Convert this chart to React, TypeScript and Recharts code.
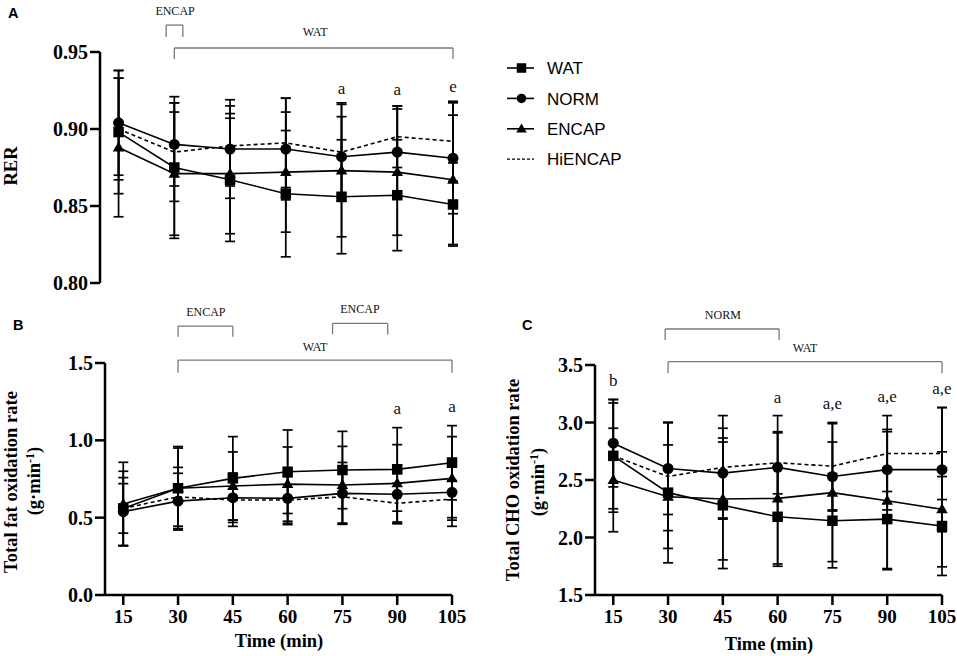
import React from 'react';
import { LineChart, Line, XAxis, YAxis, ErrorBar, ReferenceLine, ReferenceDot, Legend } from 'recharts';

// ---------- data ----------
const time = [15, 30, 45, 60, 75, 90, 105];
const xTicks = [15, 30, 45, 60, 75, 90, 105];

// Panel A: RER
const rerWAT = [0.898, 0.875, 0.867, 0.858, 0.856, 0.857, 0.851];
const rerWATsd = [0.040, 0.046, 0.040, 0.041, 0.037, 0.036, 0.027];
const rerNORM = [0.904, 0.890, 0.887, 0.887, 0.882, 0.885, 0.881];
const rerNORMsd = [0.034, 0.027, 0.032, 0.033, 0.026, 0.030, 0.036];
const rerENCAP = [0.888, 0.871, 0.871, 0.872, 0.873, 0.872, 0.867];
const rerENCAPsd = [0.045, 0.040, 0.039, 0.039, 0.043, 0.041, 0.042];
const rerHI = [0.900, 0.885, 0.889, 0.891, 0.885, 0.895, 0.892];
const rerHIsd = [0.033, 0.032, 0.026, 0.029, 0.032, 0.020, 0.026];
const rerTicks = [0.8, 0.85, 0.9, 0.95];

// Panel B: total fat oxidation rate
const fatWAT = [0.56, 0.69, 0.754, 0.797, 0.808, 0.812, 0.855];
const fatWATsd = [0.24, 0.27, 0.27, 0.27, 0.25, 0.27, 0.24];
const fatNORM = [0.539, 0.607, 0.629, 0.625, 0.657, 0.651, 0.664];
const fatNORMsd = [0.22, 0.18, 0.16, 0.17, 0.20, 0.19, 0.22];
const fatENCAP = [0.588, 0.69, 0.705, 0.717, 0.711, 0.722, 0.754];
const fatENCAPsd = [0.27, 0.26, 0.22, 0.24, 0.25, 0.25, 0.27];
const fatHI = [0.56, 0.635, 0.614, 0.614, 0.635, 0.593, 0.62];
const fatHIsd = [0.16, 0.19, 0.17, 0.15, 0.17, 0.13, 0.12];
const fatTicks = [0, 0.5, 1.0, 1.5];

// Panel C: total CHO oxidation rate
const choWAT = [2.71, 2.39, 2.28, 2.18, 2.146, 2.16, 2.10];
const choWATsd = [0.46, 0.61, 0.55, 0.43, 0.41, 0.43, 0.43];
const choNORM = [2.82, 2.60, 2.56, 2.61, 2.53, 2.59, 2.59];
const choNORMsd = [0.38, 0.40, 0.39, 0.45, 0.30, 0.35, 0.54];
const choENCAP = [2.50, 2.355, 2.335, 2.34, 2.39, 2.32, 2.245];
const choENCAPsd = [0.45, 0.45, 0.53, 0.57, 0.60, 0.60, 0.50];
const choHI = [2.71, 2.53, 2.61, 2.65, 2.62, 2.73, 2.73];
const choHIsd = [0.49, 0.47, 0.45, 0.27, 0.38, 0.33, 0.40];
const choTicks = [1.5, 2.0, 2.5, 3.0, 3.5];

// ---------- styles ----------
const SERIF = "'Liberation Serif', 'Times New Roman', serif";
const SANS = "'Liberation Sans', Arial, sans-serif";
const BRACKET = '#7a7a7a';
const AXIS = { stroke: '#000', strokeWidth: 2.5 };
const TICK_Y = { fill: '#000', fontSize: 20, fontWeight: 'bold', fontFamily: SERIF };
const TICK_X = { fill: '#000', fontSize: 19, fontWeight: 'bold', fontFamily: SERIF };

function buildRows(wat: number[], watSd: number[], norm: number[], normSd: number[], encap: number[], encapSd: number[], hi: number[], hiSd: number[]) {
  return time.map((t, i) => ({
    t,
    wat: wat[i], watSd: watSd[i],
    norm: norm[i], normSd: normSd[i],
    encap: encap[i], encapSd: encapSd[i],
    hi: hi[i], hiSd: hiSd[i],
  }));
}

const rowsA = buildRows(rerWAT, rerWATsd, rerNORM, rerNORMsd, rerENCAP, rerENCAPsd, rerHI, rerHIsd);
const rowsB = buildRows(fatWAT, fatWATsd, fatNORM, fatNORMsd, fatENCAP, fatENCAPsd, fatHI, fatHIsd);
const rowsC = buildRows(choWAT, choWATsd, choNORM, choNORMsd, choENCAP, choENCAPsd, choHI, choHIsd);

// ---------- markers ----------
function markerShape(kind: string, cx: number, cy: number, s: number) {
  if (kind === 'square') return <rect x={cx - s / 2} y={cy - s / 2} width={s} height={s} fill="#000" />;
  if (kind === 'circle') return <circle cx={cx} cy={cy} r={s / 2} fill="#000" />;
  if (kind === 'triangle') {
    const h = s * 0.95;
    return <polygon points={`${cx},${cy - h * 0.6} ${cx + s * 0.55},${cy + h * 0.4} ${cx - s * 0.55},${cy + h * 0.4}`} fill="#000" />;
  }
  return null;
}

const makeDot = (kind: string) => (p: any) => {
  if (p.cx == null || p.cy == null) return <g />;
  return <g>{markerShape(kind, p.cx, p.cy, kind === 'circle' ? 11 : 10.5)}</g>;
};

const SERIES = [
  { key: 'wat', name: 'WAT', marker: 'square', dash: undefined as string | undefined },
  { key: 'norm', name: 'NORM', marker: 'circle', dash: undefined as string | undefined },
  { key: 'encap', name: 'ENCAP', marker: 'triangle', dash: undefined as string | undefined },
  { key: 'hi', name: 'HiENCAP', marker: 'none', dash: '4 3' },
];

function seriesLines() {
  return SERIES.map((s) => (
    <Line
      key={s.key}
      type="linear"
      dataKey={s.key}
      name={s.name}
      stroke="#000"
      strokeWidth={1.6}
      strokeDasharray={s.dash}
      dot={s.marker === 'none' ? false : makeDot(s.marker)}
      activeDot={false}
      isAnimationActive={false}
      legendType="line"
    >
      <ErrorBar dataKey={`${s.key}Sd`} width={5} stroke="#000" strokeWidth={1.7} direction="y" isAnimationActive={false} />
    </Line>
  ));
}

// ---------- annotations ----------
function bracket(id: string, x1: number, x2: number, yTop: number, yLeg: number) {
  const common = { stroke: BRACKET, strokeWidth: 1.3, ifOverflow: 'visible' as const };
  return [
    <ReferenceLine key={`${id}-l`} segment={[{ x: x1, y: yLeg }, { x: x1, y: yTop }]} {...common} />,
    <ReferenceLine key={`${id}-t`} segment={[{ x: x1, y: yTop }, { x: x2, y: yTop }]} {...common} />,
    <ReferenceLine key={`${id}-r`} segment={[{ x: x2, y: yTop }, { x: x2, y: yLeg }]} {...common} />,
  ];
}

function note(id: string, x: number, y: number, text: string, size: number, color = '#111') {
  return (
    <ReferenceDot
      key={id}
      x={x}
      y={y}
      r={1}
      ifOverflow="visible"
      shape={(p: any) => (
        <text x={p.cx} y={p.cy} textAnchor="middle" dominantBaseline="central" fontFamily={SERIF} fontSize={size} fill={color}>
          {text}
        </text>
      )}
    />
  );
}

// ---------- legend ----------
const renderLegend = (props: any) => {
  const payload: any[] = (props.payload || []).slice();
  payload.sort((a, b) => SERIES.findIndex((s) => s.name === a.value) - SERIES.findIndex((s) => s.name === b.value));
  return (
    <svg width={160} height={125} style={{ overflow: 'visible' }}>
      {payload.map((entry, i) => {
        const def = SERIES.find((s) => s.name === entry.value);
        const y = 18 + i * 30.4;
        return (
          <g key={String(entry.value)}>
            <line x1={7} x2={34} y1={y} y2={y} stroke="#000" strokeWidth={def && def.dash ? 1.2 : 1.6} strokeDasharray={def && def.dash ? '3 2' : undefined} />
            {def ? markerShape(def.marker, 21.5, y, 9.5) : null}
            <text x={47} y={y + 6.2} fontFamily={SANS} fontSize={17} fill="#000">{entry.value}</text>
          </g>
        );
      })}
    </svg>
  );
};

// ---------- overlay text ----------
function Overlay() {
  const title = { fontFamily: SERIF, fontWeight: 'bold' as const, fontSize: 18.5, fill: '#000', textAnchor: 'middle' as const, style: { fill: '#000' } };
  const panel = { fontFamily: SANS, fontWeight: 'bold' as const, fontSize: 14.5, fill: '#000' };
  return (
    <svg width={957} height={656} style={{ position: 'absolute', left: 0, top: 0, pointerEvents: 'none' }}>
      <text x={8} y={18} {...panel}>A</text>
      <text x={13} y={330} {...panel}>B</text>
      <text x={522} y={330} {...panel}>C</text>

      <text transform="translate(17,166) rotate(-90)" {...title}>RER</text>

      <text transform="translate(16.5,482) rotate(-90)" {...title}>Total fat oxidation rate</text>
      <text transform="translate(40,481) rotate(-90)" {...title}>
        (g·min<tspan dy={-6} fontSize={12}>-1</tspan><tspan dy={6}>)</tspan>
      </text>

      <text transform="translate(519,480) rotate(-90)" {...title}>Total CHO oxidation rate</text>
      <text transform="translate(544,482) rotate(-90)" {...title}>
        (g·min<tspan dy={-6} fontSize={12}>-1</tspan><tspan dy={6}>)</tspan>
      </text>

      <text x={279} y={647} {...title}>Time (min)</text>
      <text x={769} y={650} {...title}>Time (min)</text>
    </svg>
  );
}

export default function App() {
  return (
    <div style={{ position: 'absolute', left: 0, top: 0, width: 957, height: 656, background: '#fff' }}>
      {/* Panel A */}
      <div style={{ position: 'absolute', left: 0, top: 0 }}>
        <LineChart width={957} height={300} data={rowsA} margin={{ top: 52, right: 504, bottom: 17, left: 0 }}>
          <XAxis type="number" dataKey="t" domain={[10, 105]} ticks={xTicks} hide />
          <YAxis
            type="number"
            domain={[0.8, 0.95]}
            ticks={rerTicks}
            tickFormatter={(v: number) => v.toFixed(2)}
            width={100}
            tick={TICK_Y}
            axisLine={AXIS}
            tickLine={AXIS}
            tickSize={10}
            tickMargin={2}
            interval={0}
          />
          {bracket('aEncap', 27.8, 32.3, 0.9675, 0.9597)}
          {bracket('aWat', 30, 105, 0.9526, 0.9455)}
          {note('aEncapT', 30.2, 0.9766, 'ENCAP', 12)}
          {note('aWatT', 67.9, 0.9627, 'WAT', 12)}
          {note('aA75', 75, 0.9266, 'a', 17)}
          {note('aA90', 90, 0.9257, 'a', 17)}
          {note('aE105', 105, 0.9273, 'e', 17)}
          {seriesLines()}
          <Legend
            layout="vertical"
            align="center"
            verticalAlign="middle"
            wrapperStyle={{ left: 500, top: 50, width: 160, height: 125 }}
            content={renderLegend}
          />
        </LineChart>
      </div>

      {/* Panel B */}
      <div style={{ position: 'absolute', left: 0, top: 300 }}>
        <LineChart width={480} height={356} data={rowsB} margin={{ top: 63, right: 28, bottom: 31, left: 0 }}>
          <XAxis
            type="number"
            dataKey="t"
            domain={[10, 105]}
            ticks={xTicks}
            interval={0}
            height={30}
            tick={TICK_X}
            axisLine={AXIS}
            tickLine={AXIS}
            tickSize={10}
            tickMargin={5}
          />
          <YAxis
            type="number"
            domain={[0, 1.5]}
            ticks={fatTicks}
            tickFormatter={(v: number) => v.toFixed(1)}
            width={105}
            tick={TICK_Y}
            axisLine={AXIS}
            tickLine={AXIS}
            tickSize={10}
            tickMargin={2}
            interval={0}
          />
          {bracket('bEncap1', 30, 45, 1.739, 1.670)}
          {bracket('bEncap2', 72.3, 87.4, 1.756, 1.685)}
          {bracket('bWat', 30, 105, 1.519, 1.437)}
          {note('bEncap1T', 37.6, 1.831, 'ENCAP', 12)}
          {note('bEncap2T', 79.8, 1.847, 'ENCAP', 12)}
          {note('bWatT', 67.5, 1.605, 'WAT', 12)}
          {note('bA90', 90, 1.207, 'a', 17)}
          {note('bA105', 105, 1.217, 'a', 17)}
          {seriesLines()}
        </LineChart>
      </div>

      {/* Panel C */}
      <div style={{ position: 'absolute', left: 480, top: 300 }}>
        <LineChart width={477} height={356} data={rowsC} margin={{ top: 65, right: 15, bottom: 31, left: 0 }}>
          <XAxis
            type="number"
            dataKey="t"
            domain={[10, 105]}
            ticks={xTicks}
            interval={0}
            height={30}
            tick={TICK_X}
            axisLine={AXIS}
            tickLine={AXIS}
            tickSize={10}
            tickMargin={5}
          />
          <YAxis
            type="number"
            domain={[1.5, 3.5]}
            ticks={choTicks}
            tickFormatter={(v: number) => v.toFixed(1)}
            width={115}
            tick={TICK_Y}
            axisLine={AXIS}
            tickLine={AXIS}
            tickSize={10}
            tickMargin={2}
            interval={0}
          />
          {bracket('cNorm', 29.2, 60.4, 3.813, 3.717)}
          {bracket('cWat', 30, 105, 3.529, 3.428)}
          {note('cNormT', 45, 3.935, 'NORM', 12)}
          {note('cWatT', 67.5, 3.65, 'WAT', 12)}
          {note('cB15', 15, 3.363, 'b', 17)}
          {note('cA60', 60, 3.216, 'a', 17)}
          {note('cAE75', 75, 3.161, 'a,e', 17)}
          {note('cAE90', 90, 3.224, 'a,e', 17)}
          {note('cAE105', 105, 3.297, 'a,e', 17)}
          {seriesLines()}
        </LineChart>
      </div>

      <Overlay />
    </div>
  );
}
